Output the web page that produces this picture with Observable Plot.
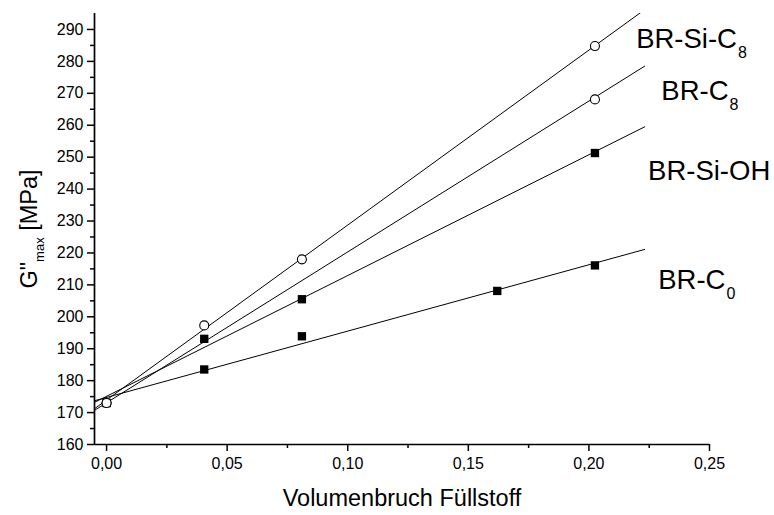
<!DOCTYPE html>
<html><head><meta charset="utf-8">
<script src="https://cdn.jsdelivr.net/npm/d3@7"></script>
<script src="https://cdn.jsdelivr.net/npm/@observablehq/plot@0.6"></script>
<style>html,body{margin:0;padding:0;background:#fff} svg{display:block}</style>
</head><body><div id="chart"></div>
<script>
// Reference (unfilled) rubber point
const originX = [0];
const originY = [173];
// Measured points
const brSiC8X = [0, 0.0405, 0.081, 0.2025];
const brSiC8Y = [173, 197.3, 218.0, 284.8];
const brC8X = [0, 0.2025];
const brC8Y = [173, 268.1];
const brSiOHX = [0.0405, 0.081, 0.2025];
const brSiOHY = [193.1, 205.5, 251.3];
const brC0X = [0.0405, 0.081, 0.162, 0.2025];
const brC0Y = [183.5, 193.9, 208.1, 216.1];
// Linear fit lines (start / end)
const fitX = [-0.005, 0.2231];
const fitSiC8 = [171.2, 296.2];
const fitC8 = [170.7, 278.5];
const fitSiOH = [173.2, 259.5];
const fitC0 = [173.7, 221.1];
// Series labels
const labelNames = ["BR-Si-C", "BR-C", "BR-Si-OH", "BR-C"];
const labelSubs = ["8", "8", "", "0"];
const labelX = [0.2614, 0.2579, 0.2752, 0.2566];
const labelY = [284.05, 267.8, 242.8, 208.8];
// Ticks
const xTicks = [0, 0.05, 0.10, 0.15, 0.20, 0.25];
const xMinor = [0.025, 0.075, 0.125, 0.175, 0.225];
const yTicks = [160, 170, 180, 190, 200, 210, 220, 230, 240, 250, 260, 270, 280, 290];
const yMinor = [165, 175, 185, 195, 205, 215, 225, 235, 245, 255, 265, 275, 285];
const xTitle = "Volumenbruch Füllstoff";

const toPts = (xs, ys) => xs.map((x, i) => ({x, y: ys[i]}));
const fits = [fitSiC8, fitC8, fitSiOH, fitC0].map(f => toPts(fitX, f));
const circles = [...toPts(brSiC8X, brSiC8Y), ...toPts(brC8X, brC8Y)];
const squares = [...toPts(brSiOHX, brSiOHY), ...toPts(brC0X, brC0Y)];
const origin = toPts(originX, originY);
const labels = labelNames.map((n, i) => ({name: n, sub: labelSubs[i], x: labelX[i], y: labelY[i]}));
const fmt = d => d.toFixed(2).replace(".", ",");

const chart = Plot.plot({
  width: 774, height: 515,
  marginLeft: 94, marginRight: 65, marginTop: 13, marginBottom: 71,
  x: {domain: [-0.005, 0.25]},
  y: {domain: [160, 295]},
  style: {fontFamily: "'Liberation Sans', Arial, sans-serif", fontSize: "16px", color: "black", background: "white"},
  marks: [
    Plot.axisX({ticks: xTicks, tickSize: 7, tickPadding: 6, tickFormat: fmt, label: null, strokeWidth: 1.5}),
    Plot.axisX({ticks: xMinor, tickSize: 4, tickFormat: () => "", label: null, strokeWidth: 1.5}),
    Plot.axisY({ticks: yTicks, tickSize: 7, tickPadding: 4, tickFormat: d => String(d), label: null, strokeWidth: 1.5}),
    Plot.axisY({ticks: yMinor, tickSize: 4, tickFormat: () => "", label: null, strokeWidth: 1.5}),
    Plot.ruleY([160], {strokeWidth: 1.7}),
    Plot.ruleX([-0.005], {strokeWidth: 1.7}),
    ...fits.map(f => Plot.line(f, {x: "x", y: "y", stroke: "black", strokeWidth: 1, clip: true})),
    Plot.dot(squares, {x: "x", y: "y", symbol: "square", r: 4.7, fill: "black", stroke: "none"}),
    Plot.dot(origin, {x: "x", y: "y", symbol: "square", r: 4.4, fill: "white", stroke: "black", strokeWidth: 1}),
    Plot.dot(circles, {x: "x", y: "y", r: 4.5, fill: "white", stroke: "black", strokeWidth: 1.1}),
    Plot.text(labels, {x: "x", y: "y", text: "name", textAnchor: "end", lineAnchor: "bottom", fontSize: 27.5}),
    Plot.text(labels, {x: "x", y: "y", text: "sub", textAnchor: "start", lineAnchor: "bottom", dy: 10, dx: 1, fontSize: 16}),
    Plot.text([xTitle], {frameAnchor: "bottom", text: d => d, dy: 61, fontSize: 23.5, lineAnchor: "bottom"})
  ]
});
document.getElementById("chart").appendChild(chart);

// y-axis title with subscript
const t = d3.select(chart).append("text")
  .attr("transform", "translate(37,229) rotate(-90)")
  .attr("text-anchor", "middle")
  .attr("font-size", 23.5)
  .attr("fill", "black");
t.append("tspan").text('G"');
t.append("tspan").attr("font-size", 13).attr("dy", 7).text("max");
t.append("tspan").attr("dy", -7).text(" [MPa]");
</script>
</body></html>
